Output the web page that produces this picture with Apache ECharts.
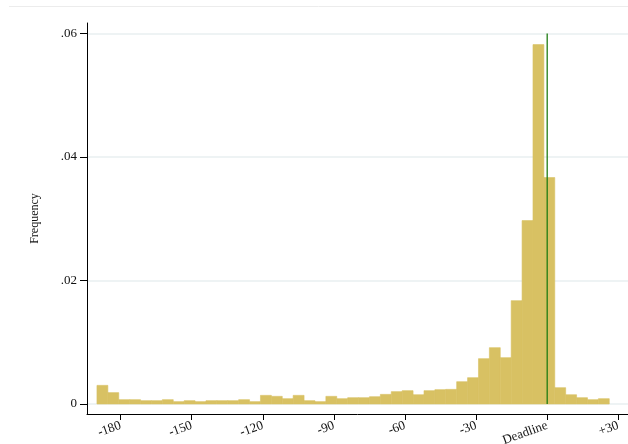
<!DOCTYPE html>
<html>
<head>
<meta charset="utf-8">
<script src="https://cdn.jsdelivr.net/npm/echarts@6/dist/echarts.min.js"></script>
<style>
html,body{margin:0;padding:0;background:#fff;}
#chart{width:628px;height:444px;}
</style>
</head>
<body>
<div id="chart"></div>
<script>
// Histogram of days relative to deadline
const binStart = -190.0;   // left edge of first bin (days)
const binWidth = 4.6;      // bin width (days)
const frequencies = [
  0.00302, 0.00184, 0.0007, 0.0007, 0.00054, 0.00054, 0.0007, 0.00038, 0.00054, 0.00038,
  0.00054, 0.00054, 0.00054, 0.0007, 0.00038, 0.0014, 0.00124, 0.00086, 0.0014, 0.00054,
  0.00038, 0.00124, 0.00086, 0.00102, 0.00102, 0.00118, 0.00156, 0.002, 0.00216, 0.0015,
  0.00216, 0.00232, 0.00237, 0.00361, 0.00426, 0.00734, 0.00912, 0.0075, 0.01674, 0.0297,
  0.0582, 0.03667, 0.00264, 0.0015, 0.00102, 0.0007, 0.00086
];
const xTicks = [-180, -150, -120, -90, -60, -30, 0, 30];
const xTickLabels = ['-180', '-150', '-120', '-90', '-60', '-30', 'Deadline', '+30'];
const yTicks = [0, 0.02, 0.04, 0.06];
const yTickLabels = ['0', '.02', '.04', '.06'];
const deadline = 0;
const deadlineLine = [[deadline, 0], [deadline, 0.06]];

const binData = frequencies.map((f, i) => [binStart + i * binWidth, binStart + (i + 1) * binWidth, f]);

const font = 'Liberation Serif, Times New Roman, serif';
const chart = echarts.init(document.getElementById('chart'), null, {renderer: 'canvas'});
chart.setOption({
  backgroundColor: '#ffffff',
  animation: false,
  grid: {left: 87, right: 0, top: 23, bottom: 30, containLabel: false, outerBoundsMode: 'none'},
  graphic: [{
    type: 'line', shape: {x1: 9, y1: 6.5, x2: 628, y2: 6.5},
    style: {stroke: '#ececec', lineWidth: 1}
  }],
  xAxis: {
    type: 'value', min: -194.2, max: 34.1,
    axisLine: {show: true, onZero: false, lineStyle: {color: '#000', width: 1}},
    axisTick: {show: true, length: 6, customValues: xTicks, lineStyle: {color: '#000'}},
    axisLabel: {
      customValues: xTicks, rotate: 20, margin: 11,
      fontFamily: font, fontSize: 13, color: '#111',
      formatter: v => { const i = xTicks.indexOf(Math.round(v)); return i >= 0 ? xTickLabels[i] : ''; }
    },
    splitLine: {show: false}
  },
  yAxis: {
    type: 'value', min: -0.00162, max: 0.0617,
    name: 'Frequency', nameLocation: 'middle', nameGap: 46,
    nameTextStyle: {fontFamily: font, fontSize: 12, color: '#111'},
    axisLine: {show: true, onZero: false, lineStyle: {color: '#000', width: 1}},
    axisTick: {show: true, length: 7, customValues: yTicks, lineStyle: {color: '#000'}},
    axisLabel: {
      customValues: yTicks, margin: 10,
      fontFamily: font, fontSize: 13, color: '#111',
      formatter: v => { const i = yTicks.findIndex(t => Math.abs(t - v) < 1e-9); return i >= 0 ? yTickLabels[i] : ''; }
    },
    splitLine: {show: true, lineStyle: {color: '#e8eff1', width: 1.5}}
  },
  series: [{
    type: 'custom',
    data: binData,
    renderItem: function (params, api) {
      const p0 = api.coord([api.value(0), api.value(2)]);
      const p1 = api.coord([api.value(1), 0]);
      return {
        type: 'rect',
        shape: {x: p0[0], y: p0[1], width: p1[0] - p0[0], height: p1[1] - p0[1]},
        style: {fill: '#d8c163', stroke: '#d8c163', lineWidth: 0.6}
      };
    },
    encode: {x: [0, 1], y: 2}
  }, {
    type: 'line',
    data: deadlineLine,
    symbol: 'none',
    lineStyle: {color: '#1f7d12', width: 1.3},
    z: 5
  }]
});
</script>
</body>
</html>
